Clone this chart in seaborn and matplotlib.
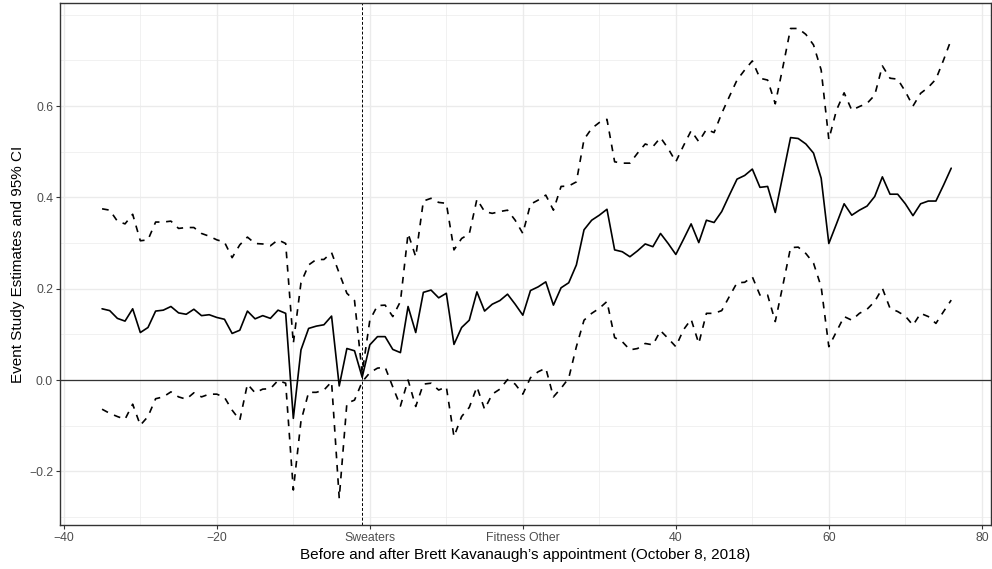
import numpy as np
import pandas as pd
import matplotlib
matplotlib.use("Agg")
import matplotlib.pyplot as plt
import seaborn as sns
from matplotlib.ticker import MultipleLocator

# ---- data ----
event_time = list(range(-35, 77))

estimate = [0.156, 0.152, 0.135, 0.129, 0.156, 0.104, 0.115, 0.151, 0.153, 0.161,
            0.147, 0.144, 0.155, 0.141, 0.143, 0.137, 0.133, 0.102, 0.109, 0.151,
            0.134, 0.141, 0.135, 0.153, 0.146, -0.084, 0.066, 0.113, 0.118, 0.121,
            0.140, -0.013, 0.069, 0.064, 0.006, 0.077, 0.095, 0.095, 0.067, 0.060,
            0.161, 0.104, 0.192, 0.197, 0.180, 0.190, 0.078, 0.115, 0.131, 0.193,
            0.151, 0.166, 0.174, 0.188, 0.166, 0.142, 0.196, 0.204, 0.215, 0.164,
            0.202, 0.213, 0.252, 0.329, 0.350, 0.361, 0.374, 0.285, 0.281, 0.270,
            0.283, 0.298, 0.292, 0.321, 0.299, 0.275, 0.308, 0.342, 0.301, 0.350,
            0.345, 0.369, 0.405, 0.440, 0.448, 0.462, 0.422, 0.424, 0.367, 0.449,
            0.531, 0.529, 0.517, 0.497, 0.442, 0.299, 0.342, 0.386, 0.361, 0.372,
            0.381, 0.402, 0.445, 0.407, 0.407, 0.386, 0.360, 0.386, 0.392, 0.392,
            0.427, 0.464]

upper_ci = [0.375, 0.372, 0.348, 0.342, 0.363, 0.305, 0.307, 0.346, 0.346, 0.348,
            0.332, 0.334, 0.334, 0.321, 0.315, 0.307, 0.302, 0.268, 0.296, 0.313,
            0.299, 0.298, 0.294, 0.307, 0.299, 0.080, 0.213, 0.252, 0.264, 0.264,
            0.279, 0.234, 0.190, 0.174, 0.015, 0.131, 0.163, 0.164, 0.139, 0.172,
            0.321, 0.270, 0.392, 0.398, 0.389, 0.387, 0.285, 0.310, 0.320, 0.396,
            0.369, 0.365, 0.369, 0.372, 0.350, 0.321, 0.385, 0.394, 0.405, 0.372,
            0.424, 0.425, 0.434, 0.527, 0.551, 0.564, 0.571, 0.478, 0.475, 0.475,
            0.497, 0.517, 0.511, 0.531, 0.507, 0.478, 0.513, 0.546, 0.522, 0.549,
            0.542, 0.584, 0.621, 0.657, 0.679, 0.699, 0.661, 0.657, 0.605, 0.686,
            0.770, 0.770, 0.757, 0.734, 0.679, 0.527, 0.591, 0.629, 0.591, 0.599,
            0.606, 0.624, 0.688, 0.661, 0.659, 0.632, 0.600, 0.628, 0.641, 0.659,
            0.701, 0.746]

lower_ci = [-0.064, -0.073, -0.080, -0.086, -0.053, -0.099, -0.080, -0.041, -0.037, -0.026,
            -0.037, -0.042, -0.028, -0.037, -0.031, -0.031, -0.038, -0.066, -0.088, -0.009,
            -0.028, -0.020, -0.019, -0.001, -0.007, -0.241, -0.090, -0.027, -0.027, -0.022,
            -0.004, -0.259, -0.051, -0.044, -0.004, 0.016, 0.026, 0.028, -0.015, -0.057,
            0.000, -0.058, -0.009, -0.007, -0.022, -0.015, -0.124, -0.080, -0.060, -0.015,
            -0.064, -0.031, -0.020, 0.001, -0.009, -0.031, 0.005, 0.018, 0.026, -0.037,
            -0.018, 0.004, 0.073, 0.131, 0.146, 0.157, 0.172, 0.093, 0.084, 0.066,
            0.069, 0.080, 0.077, 0.108, 0.091, 0.073, 0.110, 0.133, 0.080, 0.146,
            0.146, 0.152, 0.183, 0.213, 0.214, 0.226, 0.186, 0.186, 0.128, 0.208,
            0.290, 0.291, 0.277, 0.256, 0.204, 0.073, 0.106, 0.139, 0.131, 0.146,
            0.155, 0.172, 0.201, 0.157, 0.150, 0.140, 0.120, 0.146, 0.139, 0.124,
            0.150, 0.175]

x_tick_values = [-40, -20, 0, 20, 40, 60, 80]
x_tick_labels = ["\u221240", "\u221220", "Sweaters", "Fitness Other", "40", "60", "80"]
y_tick_values = [-0.2, 0.0, 0.2, 0.4, 0.6]
y_tick_labels = ["\u22120.2", "0.0", "0.2", "0.4", "0.6"]
reference_period = -1

df = pd.DataFrame({"t": event_time, "est": estimate, "hi": upper_ci, "lo": lower_ci})

# ---- style ----
sns.set_theme(style="white")
plt.rcParams["font.family"] = ["Liberation Sans", "DejaVu Sans"]

fig = plt.figure(figsize=(9.92, 5.69), dpi=100)
ax = fig.add_axes([60 / 992, 44 / 569, 931 / 992, 522 / 569])

# grid
ax.set_axisbelow(True)
ax.xaxis.set_minor_locator(MultipleLocator(10))
ax.yaxis.set_minor_locator(MultipleLocator(0.1))
ax.grid(which="major", color="#EBEBEB", linewidth=1.0)
ax.grid(which="minor", color="#EBEBEB", linewidth=0.5)

ax.axhline(0, color="#333333", linewidth=0.9, zorder=2)
ax.axvline(reference_period, color="black", linewidth=0.7,
           linestyle=(0, (3, 2)), zorder=2)

sns.lineplot(data=df, x="t", y="hi", ax=ax, color="black", linewidth=1.2,
             linestyle=(0, (4, 4)), zorder=3)
sns.lineplot(data=df, x="t", y="lo", ax=ax, color="black", linewidth=1.2,
             linestyle=(0, (4, 4)), zorder=3)
sns.lineplot(data=df, x="t", y="est", ax=ax, color="black", linewidth=1.2, zorder=4)

ax.set_xlim(-40.5, 81.2)
ax.set_ylim(-0.3176, 0.8258)

ax.set_xticks(x_tick_values)
ax.set_xticklabels(x_tick_labels)
ax.set_yticks(y_tick_values)
ax.set_yticklabels(y_tick_labels)
ax.tick_params(axis="both", which="major", length=2.75, width=0.8, color="#333333",
               labelsize=8.8, labelcolor="#4D4D4D", pad=2.2, bottom=True, left=True)
ax.tick_params(axis="both", which="minor", length=0)

for s in ax.spines.values():
    s.set_color("#333333")
    s.set_linewidth(1.0)

ax.set_xlabel("Before and after Brett Kavanaugh\u2019s appointment (October 8, 2018)",
              fontsize=11, color="black", labelpad=2.75)
ax.set_ylabel("Event Study Estimates and 95% CI", fontsize=11, color="black", labelpad=2.75)

fig.savefig("out.png", dpi=100)
